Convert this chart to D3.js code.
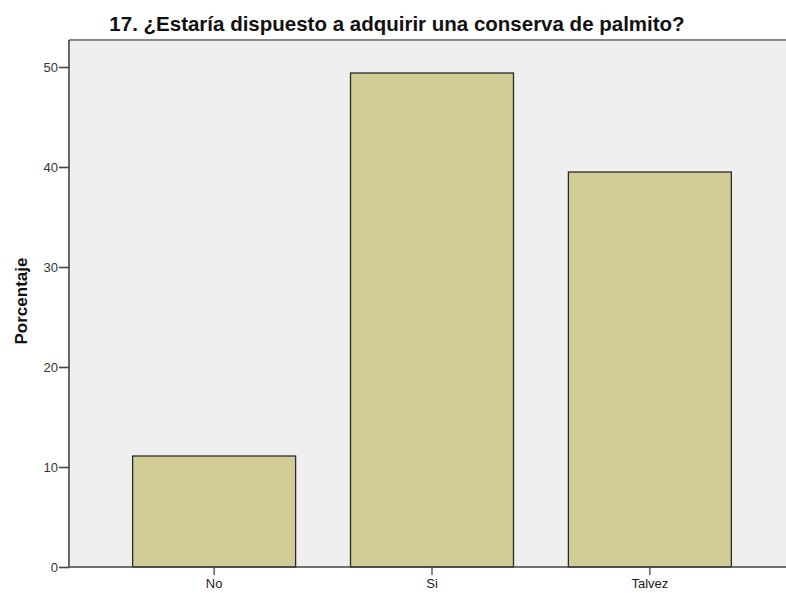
<!DOCTYPE html>
<html>
<head>
<meta charset="utf-8">
<script src="https://cdn.jsdelivr.net/npm/d3@7"></script>
<style>
  body { margin: 0; background: #fff; }
  svg { display: block; font-family: Arial, "Liberation Sans", sans-serif; }
</style>
</head>
<body>
<svg></svg>
<script>
var width  = 786,
    height = 593;

var categories = ["No", "Si", "Talvez"];
var percents   = [11.1, 49.4, 39.5];
var yTicks     = [0, 10, 20, 30, 40, 50];

var titleText = "17. ¿Estaría dispuesto a adquirir una conserva de palmito?";
var yLabel    = "Porcentaje";

var plotLeft = 69, plotRight = 795, plotTop = 40, plotBottom = 567;

var svg = d3.select("svg")
  .attr("width", width)
  .attr("height", height);

var x = d3.scaleBand()
  .domain(categories)
  .range([plotLeft, plotRight])
  .paddingInner(0.252)
  .paddingOuter(0.292);

var y = d3.scaleLinear()
  .domain([0, 50])
  .range([plotBottom, plotBottom - 500]);

// plot background
svg.append("rect")
  .attr("x", plotLeft).attr("y", plotTop)
  .attr("width", plotRight - plotLeft).attr("height", plotBottom - plotTop)
  .attr("fill", "#efefef");

// top frame line
svg.append("line")
  .attr("x1", plotLeft).attr("x2", plotRight)
  .attr("y1", plotTop).attr("y2", plotTop)
  .attr("stroke", "#888").attr("stroke-width", 2);

// bars
svg.selectAll(".bar")
  .data(categories)
  .enter()
    .append("rect")
    .attr("class", "bar")
    .attr("x", function(d){ return x(d); })
    .attr("y", function(d, i){ return y(percents[i]); })
    .attr("width", x.bandwidth())
    .attr("height", function(d, i){ return y(0) - y(percents[i]); })
    .attr("fill", "#d2cd96")
    .attr("stroke", "#2a2a2a")
    .attr("stroke-width", 1.3);

// y axis
var yAxis = svg.append("g")
  .attr("transform", "translate(" + plotLeft + ",0)")
  .call(d3.axisLeft(y).tickValues(yTicks).tickSize(10).tickPadding(1).tickFormat(d3.format("d")));
yAxis.select(".domain").attr("stroke", "#444").attr("stroke-width", 1.6)
  .attr("d", "M0," + plotTop + "V" + plotBottom);
yAxis.selectAll(".tick line").attr("stroke", "#444").attr("stroke-width", 1.6);
yAxis.selectAll(".tick text").attr("fill", "#333").style("font-size", "13px");

// x axis
var xAxis = svg.append("g")
  .attr("transform", "translate(0," + plotBottom + ")")
  .call(d3.axisBottom(x).tickSize(8).tickPadding(4));
xAxis.select(".domain").attr("stroke", "#444").attr("stroke-width", 1.6)
  .attr("d", "M" + plotLeft + ",0H" + plotRight);
xAxis.selectAll(".tick line").attr("stroke", "#444").attr("stroke-width", 1.3);
xAxis.selectAll(".tick text").attr("fill", "#222").style("font-size", "13px");

// title
svg.append("text")
  .attr("x", 397).attr("y", 31)
  .attr("text-anchor", "middle")
  .style("font-size", "20.5px")
  .style("font-weight", "bold")
  .attr("fill", "#111")
  .text(titleText);

// y label
svg.append("text")
  .attr("transform", "translate(27,301) rotate(-90)")
  .attr("text-anchor", "middle")
  .style("font-size", "17px")
  .style("font-weight", "bold")
  .attr("fill", "#111")
  .text(yLabel);
</script>
</body>
</html>
